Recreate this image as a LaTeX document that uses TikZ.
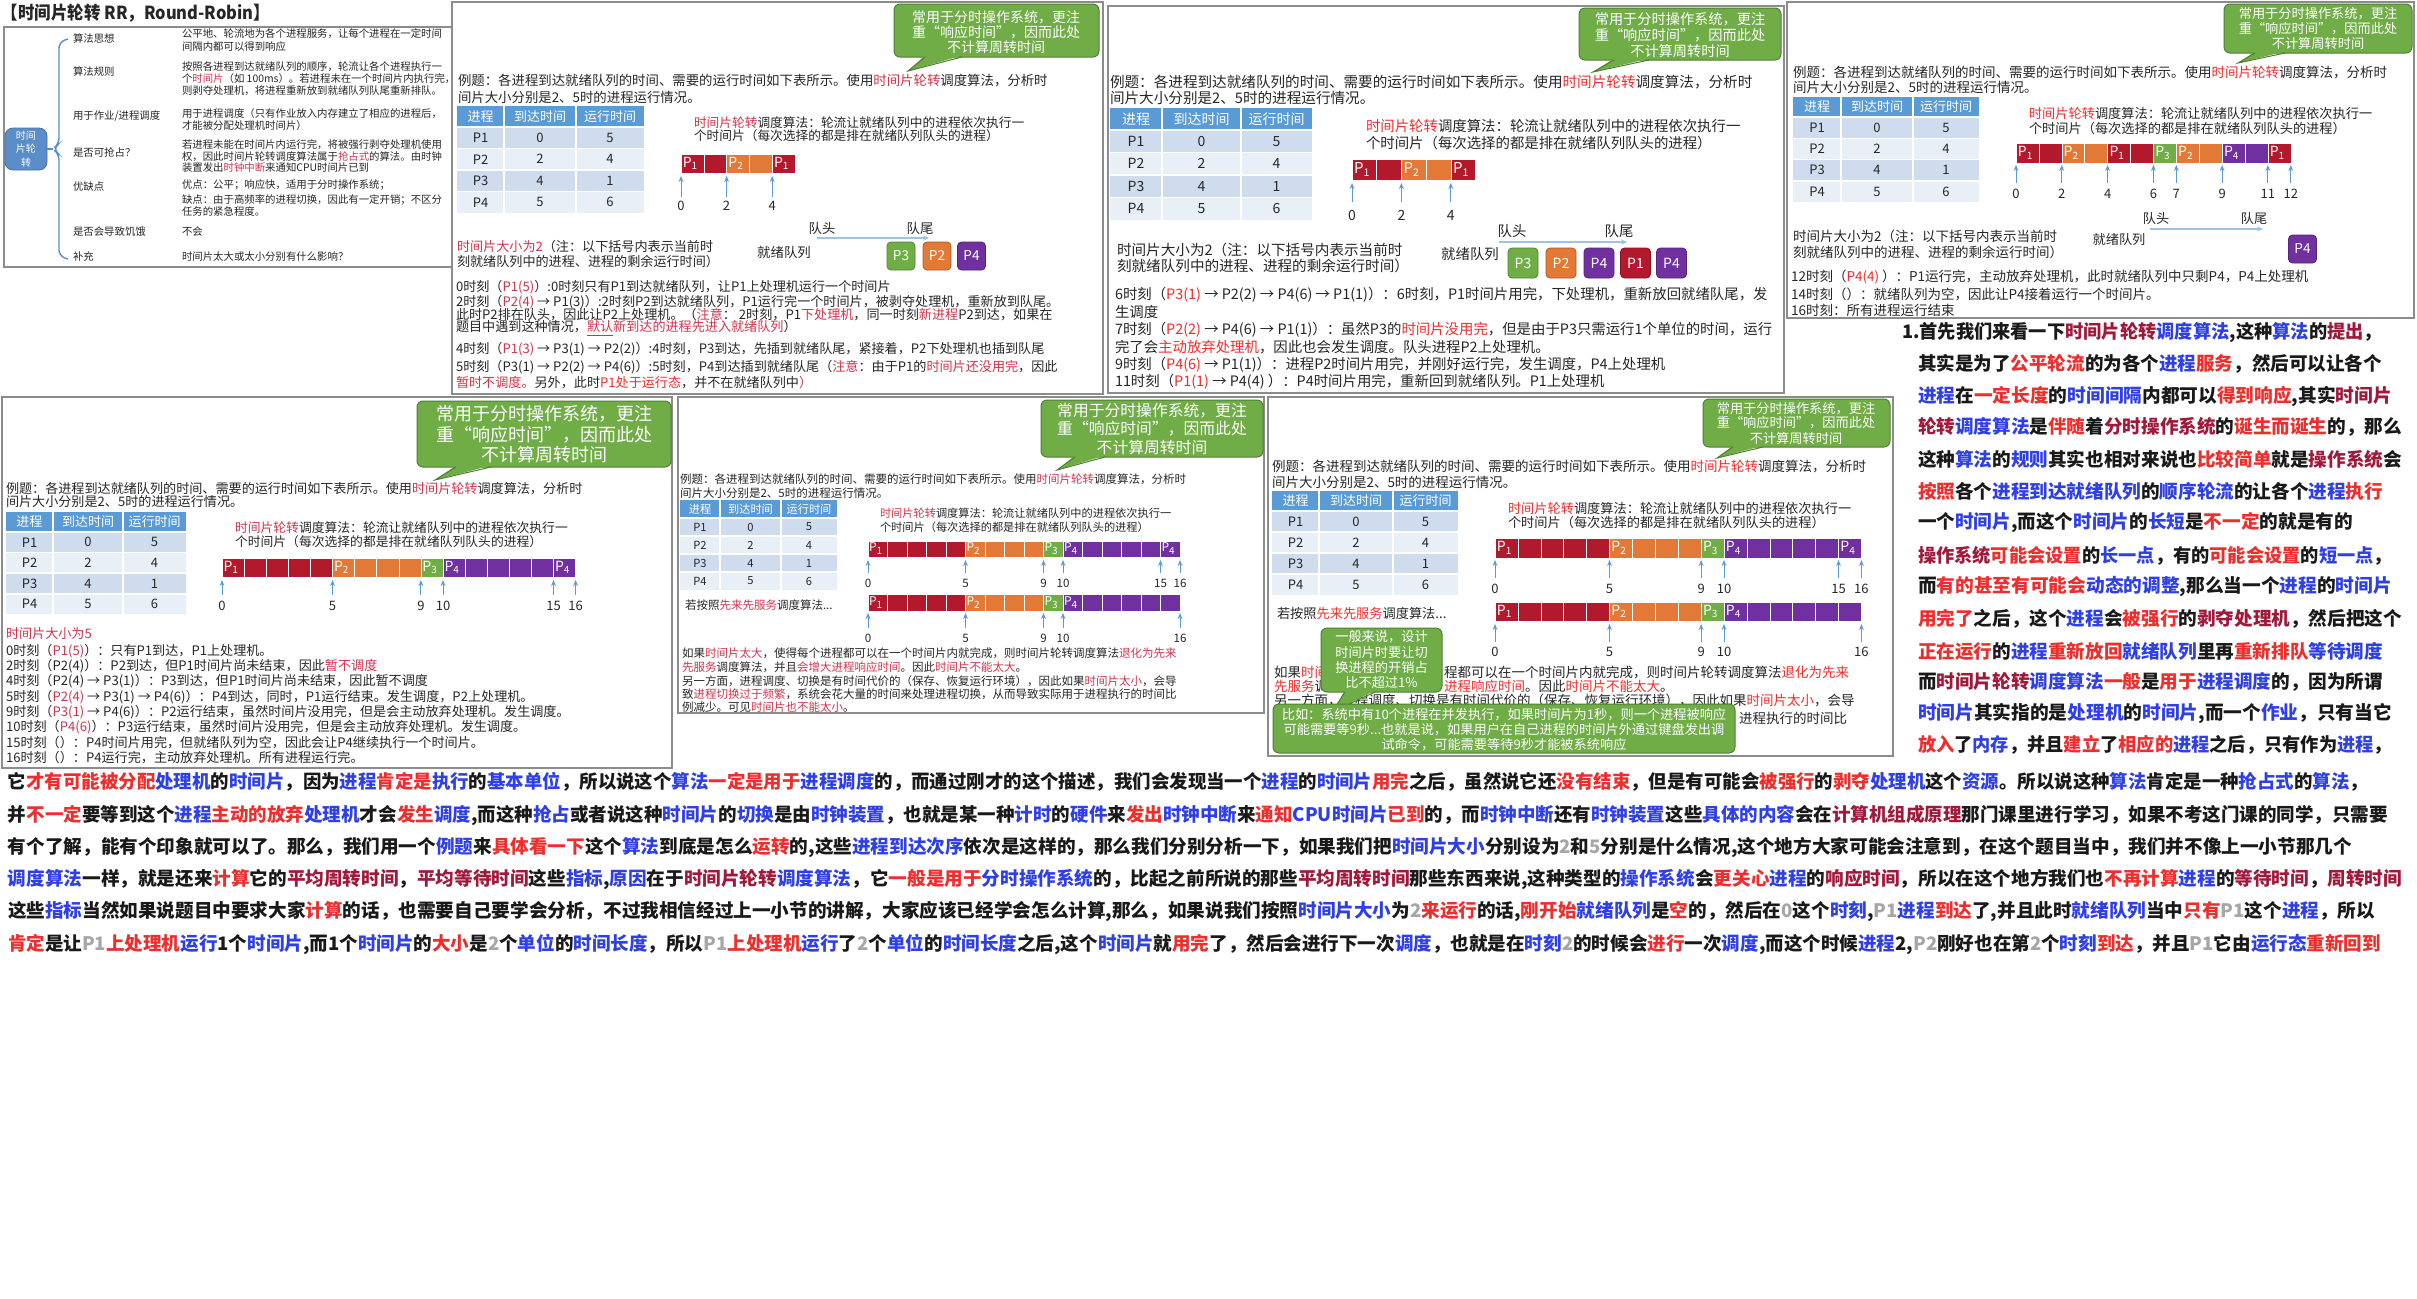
\documentclass[tikz,border=0pt]{standalone}
\usepackage{fontspec}
\setmainfont{Noto Sans CJK SC}
\usepackage{graphicx}
\usetikzlibrary{arrows.meta}

% palette
\definecolor{txt}{HTML}{262626}
\definecolor{pline}{HTML}{8C8C8C}
\definecolor{cA}{HTML}{B3192C}
\definecolor{cB}{HTML}{E27936}
\definecolor{cC}{HTML}{70AD47}
\definecolor{cD}{HTML}{7030A0}
\definecolor{gfill}{HTML}{70AD47}
\definecolor{gline}{HTML}{507E32}
\definecolor{thd}{HTML}{5B9BD5}
\definecolor{trA}{HTML}{CFDCEE}
\definecolor{trB}{HTML}{E9EFF7}
\definecolor{tick}{HTML}{5B9BD5}
\definecolor{qline}{HTML}{9DC3E6}
\definecolor{mmb}{HTML}{5B8DC8}
\definecolor{pred}{HTML}{D2334B}
\definecolor{bred}{HTML}{F52A2A}
\definecolor{cR}{HTML}{EE2D2D}
\definecolor{cBl}{HTML}{2F3FE6}
\definecolor{cDr}{HTML}{A0183A}
\definecolor{cGy}{HTML}{A6A6A6}

\newcommand\fz[1]{\fontsize{#1}{#1}\selectfont}
\newcommand\Rp[1]{\textcolor{pred}{#1}}
\newcommand\Rb[1]{\textcolor{bred}{#1}}
\newcommand\xR[1]{\textcolor{cR}{#1}}
\newcommand\xB[1]{\textcolor{cBl}{#1}}
\newcommand\xD[1]{\textcolor{cDr}{#1}}
\newcommand\xG[1]{\textcolor{cGy}{#1}}
% squeeze or stretch a line horizontally to a width given in pixels
\newcommand\fitw[2]{\resizebox{\dimexpr #1pt/2\relax}{\height}{#2}}

% repeated sentences
\newcommand\exone[1]{例题：各进程到达就绪队列的时间、需要的运行时间如下表所示。使用#1{时间片轮转}调度算法，分析时}
\newcommand\extwo{间片大小分别是2、5时的进程运行情况。}
\newcommand\alone[1]{#1{时间片轮转}调度算法：轮流让就绪队列中的进程依次执行一}
\newcommand\altwo{个时间片（每次选择的都是排在就绪队列队头的进程）}

\newcounter{nd}
\newcommand\putl[3][]{\stepcounter{nd}\node[tx,#1] (n\arabic{nd}) at (#2) {#3};}
\newcommand\putc[3][]{\stepcounter{nd}\node[txc,#1] (n\arabic{nd}) at (#2) {#3};}

\tikzset{
  tx/.style={anchor=west,inner sep=0pt,outer sep=0pt,text=txt},
  txc/.style={anchor=center,inner sep=0pt,outer sep=0pt,text=txt},
  panel/.style={draw=pline,line width=0.6pt},
  cfill/.style={fill=gfill,draw=gline,line width=0.5pt},
  ctx/.style={txc,text=white},
  glab/.style={txc,text=white},
  tk/.style={draw=tick,line width=0.5pt,-{Stealth[length=3pt,width=2.4pt]}},
  qarrow/.style={draw=qline,line width=0.7pt,-{Stealth[length=3pt,width=2.6pt]}},
  qb/.style={draw=#1!75!black,fill=#1,text=white,rounded corners=2pt,inner sep=0pt,
             line width=0.4pt,minimum width=14pt,minimum height=14pt},
  bp/.style={font=\bfseries\fz{9.3},text=black!90},
}

% speech bubble: box corners, tail base x-range on the bottom edge, tail tip
\newcommand\callout[7]{%
  \draw[cfill,rounded corners=3pt] (#1,#2) rectangle (#3,#4);
  \fill[gfill] (#5,{#4-1.5}) -- (#7) -- (#6,{#4-1.5}) -- cycle;
  \draw[gline,line width=0.5pt] (#5,#4) -- (#7) -- (#6,#4);
}

% process table: prefix, four column edges, top, header height, row height, font size
\newcommand\ptable[9]{%
  \fill[thd] (#2,#6) rectangle (#5,{#6+#7});
  \node[txc,text=white,font=\fz{#9}] (#1-h1) at ({(#2+#3)/2},{#6+#7/2}) {进程};
  \node[txc,text=white,font=\fz{#9}] (#1-h2) at ({(#3+#4)/2},{#6+#7/2}) {到达时间};
  \node[txc,text=white,font=\fz{#9}] (#1-h3) at ({(#4+#5)/2},{#6+#7/2}) {运行时间};
  \foreach \pp/\va/\vb [count=\ii] in {P1/0/5,P2/2/4,P3/4/1,P4/5/6}{%
    \pgfmathsetmacro\ya{#6+#7+(\ii-1)*#8}%
    \ifodd\ii\relax\def\rc{trA}\else\def\rc{trB}\fi
    \fill[\rc] (#2,\ya) rectangle (#5,{\ya+#8});
    \node[txc,font=\fz{#9}] (#1-p\ii) at ({(#2+#3)/2},{\ya+#8/2}) {\pp};
    \node[txc,font=\fz{#9}] (#1-a\ii) at ({(#3+#4)/2},{\ya+#8/2}) {\va};
    \node[txc,font=\fz{#9}] (#1-b\ii) at ({(#4+#5)/2},{\ya+#8/2}) {\vb};
  }
  \draw[white,line width=0.8pt] (#3,#6) -- (#3,{#6+#7+4*#8}) (#4,#6) -- (#4,{#6+#7+4*#8});
  \foreach \ii in {1,2,3}{\draw[white,line width=0.8pt] (#2,{#6+#7+\ii*#8}) -- (#5,{#6+#7+\ii*#8});}
  \draw[white,line width=1pt] (#2,{#6+#7}) -- (#5,{#6+#7});
}

% Gantt bar: name, x0, y0, unit width, height, colour list, labels k/n, label font size
\newcommand\gantt[8]{%
  \foreach \cl [count=\ii from 0] in {#6}{%
    \fill[\cl,draw=white,line width=0.3pt] ({#2+\ii*#4},#3) rectangle ({#2+\ii*#4+#4},{#3+#5});}
  \foreach \kk/\nn in {#7}{%
    \node[glab,font=\fz{#8}] (#1-\kk) at ({#2+\kk*#4+0.42*#4},{#3+#5/2}) {P\textsubscript{\nn}};}
}

% time marks under a bar: name, x0, unit, arrow foot, arrow head, label y, times, font size
\newcommand\ticks[8]{%
  \foreach \tv in {#7}{%
    \draw[tk] ({#2+\tv*#3},#4) -- ({#2+\tv*#3},#5);
    \node[txc,font=\fz{#8}] (#1-\tv) at ({#2+\tv*#3},#6) {\tv};}
}

\begin{document}
\begin{tikzpicture}[x=0.5pt,y=-0.5pt]
\useasboundingbox (0,0) rectangle (2417,1298);
\fill[white] (0,0) rectangle (2417,1298);

%================ summary card =================
\putl[font=\bfseries\fz{9}]{2,13}{\fitw{268}{【时间片轮转 RR，Round-Robin】}}
\draw[panel] (4,27) rectangle (452,267);
\node[draw=mmb!80!black,fill=mmb,rounded corners=4pt,minimum width=21pt,minimum height=21pt,
      text=white,align=center,inner sep=0pt,font=\fontsize{5}{6.7}\selectfont] (mm) at (26,149) {时间\\片轮\\转};
\coordinate (nub) at (53,149);
\draw[mmb,line width=0.7pt,rounded corners=3pt] (68,39) -- (59,42) -- (59,144) -- (nub) -- (59,154) -- (59,256) -- (68,259);
\draw[mmb,line width=0.7pt] (mm) -- (nub);
\tikzset{f1/.style={font=\fz{5.2}}}
\putl[f1]{73,39}{算法思想}
\putl[f1]{73,72}{算法规则}
\putl[f1]{73,116}{用于作业/进程调度}
\putl[f1]{73,152}{是否可抢占？}
\putl[f1]{73,187}{优缺点}
\putl[f1]{73,232}{是否会导致饥饿}
\putl[f1]{73,257}{补充}
\putl[f1]{182,34}{公平地、轮流地为各个进程服务，让每个进程在一定时间}
\putl[f1]{182,47}{间隔内都可以得到响应}
\putl[f1]{182,67}{按照各进程到达就绪队列的顺序，轮流让各个进程执行一}
\putl[f1]{182,79}{个\Rp{时间片}（如 100ms）。若进程未在一个时间片内执行完，}
\putl[f1]{182,91}{则剥夺处理机，将进程重新放到就绪队列队尾重新排队。}
\putl[f1]{182,114}{用于进程调度（只有作业放入内存建立了相应的进程后，}
\putl[f1]{182,126}{才能被分配处理机时间片）}
\putl[f1]{182,145}{若进程未能在时间片内运行完，将被强行剥夺处理机使用}
\putl[f1]{182,157}{权，因此时间片轮转调度算法属于\Rp{抢占式}的算法。由时钟}
\putl[f1]{182,168}{装置发出\Rp{时钟中断}来通知CPU时间片已到}
\putl[f1]{182,185}{优点：公平；响应快，适用于分时操作系统；}
\putl[f1]{182,200}{缺点：由于高频率的进程切换，因此有一定开销；不区分}
\putl[f1]{182,212}{任务的紧急程度。}
\putl[f1]{182,232}{不会}
\putl[f1]{182,257}{时间片太大或太小分别有什么影响？}

%================ slice 2: times 0-5 =================
\draw[panel] (452,2) rectangle (1103,394);
\callout{894}{4}{1099}{57}{925}{962}{908,71}
\tikzset{c2/.style={ctx,font=\fz{7}}, f2/.style={font=\fz{6.7}}, f2a/.style={font=\fz{6.35}}, f2e/.style={font=\fz{6.55}}}
\putc[c2]{996,17}{常用于分时操作系统，更注}
\putc[c2]{996,32}{重“响应时间”，因而此处}
\putc[c2]{996,47}{不计算周转时间}
\putl[f2]{458,81}{\exone\Rp}
\putl[f2]{458,97}{\extwo}
\ptable{t2}{457}{504}{576}{644}{106}{21}{21.5}{6.5}
\putl[f2a]{694,123}{\alone\Rp}
\putl[f2a]{694,136}{\altwo}
\gantt{g2}{681}{154}{22.8}{19}{cA,cA,cB,cB,cA}{0/1,2/2,4/1}{7}
\ticks{k2}{681}{22.8}{197}{176}{206}{0,2,4}{6.5}
\putc[f2]{822,228}{队头}
\putc[f2]{920,228}{队尾}
\coordinate (q2s) at (817,238); \coordinate (q2e) at (929,238);
\draw[qarrow] (q2s) -- (q2e);
\putc[f2]{784,252}{就绪队列}
\node[qb=cC,font=\fz{6.8}] (q2a) at (901,256) {P3};
\node[qb=cB,font=\fz{6.8}] (q2b) at (937,256) {P2};
\node[qb=cD,font=\fz{6.8}] (q2c) at (971.5,256) {P4};
\putl[f2e]{457,247}{\Rp{时间片大小为2}（注：以下括号内表示当前时}
\putl[f2e]{457,262}{刻就绪队列中的进程、进程的剩余运行时间）}
\putl[f2e]{456,287}{0时刻（\Rp{P1(5)}）:0时刻只有P1到达就绪队列，让P1上处理机运行一个时间片}
\putl[f2e]{456,302}{2时刻（\Rp{P2(4)} → P1(3)）:2时刻P2到达就绪队列，P1运行完一个时间片，被剥夺处理机，重新放到队尾。}
\putl[f2e]{456,315}{此时P2排在队头，因此让P2上处理机。（\Rp{注意}： 2时刻，P1\Rp{下处理机}，同一时刻\Rp{新进程}P2到达，如果在}
\putl[f2e]{456,328}{题目中遇到这种情况，\Rp{\underline{默认}新到达的进程先进入就绪队列}）}
\putl[f2e]{456,349}{4时刻（\Rp{P1(3)} → P3(1) → P2(2)）:4时刻，P3到达，先插到就绪队尾，紧接着，P2下处理机也插到队尾}
\putl[f2e]{456,367}{5时刻（P3(1) → P2(2) → P4(6)）:5时刻，P4到达插到就绪队尾（\Rp{注意}：由于P1的\Rp{时间片还没用完}，因此}
\putl[f2e]{456,383}{\Rp{暂时不调度。}另外，此时\Rb{P1处于运行态}，并不在就绪队列中\Rp{）}}

%================ slice 2: times 6-11 =================
\draw[panel] (1108,6) rectangle (1784,393);
\callout{1579}{8}{1781}{60}{1614}{1649}{1593,72}
\tikzset{c3/.style={ctx,font=\fz{7.1}}, f3/.style={font=\fz{7.3}}, f3a/.style={font=\fz{7.2}}}
\putc[c3]{1680,19}{常用于分时操作系统，更注}
\putc[c3]{1680,35}{重“响应时间”，因而此处}
\putc[c3]{1680,51}{不计算周转时间}
\putl[f3]{1110,82}{\exone\Rb}
\putl[f3]{1110,98}{\extwo}
\ptable{t3}{1110}{1162}{1241}{1312}{108}{22}{22.5}{7}
\putl[f3a]{1366,126}{\alone\Rb}
\putl[f3a]{1366,143}{\altwo}
\gantt{g3}{1352}{159}{24.7}{21}{cA,cA,cB,cB,cA}{0/1,2/2,4/1}{7.5}
\ticks{k3}{1352}{24.7}{202}{183}{215}{0,2,4}{7}
\putc[f3a]{1512,231}{队头}
\putc[f3a]{1619,231}{队尾}
\coordinate (q3s) at (1499,242); \coordinate (q3e) at (1627,242);
\draw[qarrow] (q3s) -- (q3e);
\putc[f3a]{1470,254}{就绪队列}
\node[qb=cC,font=\fz{7},minimum width=15pt,minimum height=15pt] (q3a) at (1523,263) {P3};
\node[qb=cB,font=\fz{7},minimum width=15pt,minimum height=15pt] (q3b) at (1561,263) {P2};
\node[qb=cD,font=\fz{7},minimum width=15pt,minimum height=15pt] (q3c) at (1599,263) {P4};
\node[qb=cA,font=\fz{7},minimum width=15pt,minimum height=15pt] (q3d) at (1635.5,263) {P1};
\node[qb=cD,font=\fz{7},minimum width=15pt,minimum height=15pt] (q3e) at (1671.5,263) {P4};
\putl[f3]{1117,250}{时间片大小为2（注：以下括号内表示当前时}
\putl[f3]{1117,266}{刻就绪队列中的进程、进程的剩余运行时间）}
\putl[f3a]{1115,295}{6时刻（\Rb{P3(1)} → P2(2) → P4(6) → P1(1)）：6时刻，P1时间片用完，下处理机，重新放回就绪队尾，发}
\putl[f3a]{1115,312}{生调度}
\putl[f3a]{1115,330}{7时刻（\Rb{P2(2)} → P4(6) → P1(1)）：虽然P3的\Rb{时间片没用完}，但是由于P3只需运行1个单位的时间，运行}
\putl[f3a]{1115,347}{完了会\Rb{主动放弃处理机}，因此也会发生调度。队头进程P2上处理机。}
\putl[f3a]{1115,365}{9时刻（\Rb{P4(6)} → P1(1)）：进程P2时间片用完，并刚好运行完，发生调度，P4上处理机}
\putl[f3a]{1115,382}{11时刻（\Rb{P1(1)} → P4(4) ）：P4时间片用完，重新回到就绪队列。P1上处理机}

%================ slice 2: times 12-16 =================
\draw[panel] (1787,2) rectangle (2414,318);
\callout{2224}{4}{2412}{53}{2255}{2285}{2238,63}
\tikzset{c4/.style={ctx,font=\fz{6.6}}, f4/.style={font=\fz{6.75}}, f4a/.style={font=\fz{6.6}}}
\putc[c4]{2318,14}{常用于分时操作系统，更注}
\putc[c4]{2318,29}{重“响应时间”，因而此处}
\putc[c4]{2318,43}{不计算周转时间}
\putl[f4]{1793,72}{\exone\Rb}
\putl[f4]{1793,87}{\extwo}
\ptable{t4}{1793}{1841}{1913}{1979}{97}{20}{21.3}{6.5}
\putl[f4a]{2029,113}{\alone\Rb}
\putl[f4a]{2029,128}{\altwo}
\gantt{g4}{2016}{143}{22.9}{20}{cA,cA,cB,cB,cA,cA,cC,cB,cB,cD,cD,cA}{0/1,2/2,4/1,6/3,7/2,9/4,11/1}{7}
\ticks{k4}{2016}{22.9}{183}{165}{194}{0,2,4,6,7,9,11,12}{6.5}
\putc[f4a]{2156,218}{队头}
\putc[f4a]{2254,218}{队尾}
\coordinate (q4s) at (2150,229); \coordinate (q4e) at (2263,229);
\draw[qarrow] (q4s) -- (q4e);
\putc[f4a]{2119,239}{就绪队列}
\node[qb=cD,font=\fz{6.8}] (q4a) at (2302.5,249) {P4};
\putl[f4]{1793,236}{时间片大小为2（注：以下括号内表示当前时}
\putl[f4]{1793,252}{刻就绪队列中的进程、进程的剩余运行时间）}
\putl[f4]{1791,277}{12时刻（\Rb{P4(4)} ）：P1运行完，主动放弃处理机，此时就绪队列中只剩P4，P4上处理机}
\putl[f4]{1791,294}{14时刻（）：就绪队列为空，因此让P4接着运行一个时间片。}
\putl[f4]{1791,310}{16时刻：所有进程运行结束}

%================ slice 5 =================
\draw[panel] (2,397) rectangle (672,768);
\callout{417}{401}{671}{467}{456}{491}{435,480}
\tikzset{c5/.style={ctx,font=\fz{9}}, f5/.style={font=\fz{6.55}}, f5a/.style={font=\fz{6.4}}}
\putc[c5]{544,414}{常用于分时操作系统，更注}
\putc[c5]{544,435}{重“响应时间”，因而此处}
\putc[c5]{544,455}{不计算周转时间}
\putl[f5]{6,489}{\exone\Rp}
\putl[f5]{6,502}{\extwo}
\ptable{t5}{6}{53}{123}{186}{512}{20}{20.6}{6.5}
\putl[f5a]{235,528}{\alone\Rp}
\putl[f5a]{235,542}{\altwo}
\gantt{g5}{222}{558}{22.1}{19}{cA,cA,cA,cA,cA,cB,cB,cB,cB,cC,cD,cD,cD,cD,cD,cD}{0/1,5/2,9/3,10/4,15/4}{7}
\ticks{k5}{222}{22.1}{595}{580}{606}{0,5,9,10,15,16}{6.5}
\putl[f5]{6,634}{\Rp{时间片大小为5}}
\putl[f5]{6,651}{0时刻（\Rp{P1(5)}）：只有P1到达，P1上处理机。}
\putl[f5]{6,666}{2时刻（P2(4)）：P2到达，但P1时间片尚未结束，因此\Rp{暂不调度}}
\putl[f5]{6,681}{4时刻（P2(4) → P3(1)）：P3到达，但P1时间片尚未结束，因此暂不调度}
\putl[f5]{6,697}{5时刻（\Rp{P2(4)} → P3(1) → P4(6)）：P4到达，同时，P1运行结束。发生调度，P2上处理机。}
\putl[f5]{6,712}{9时刻（\Rp{P3(1)} → P4(6)）：P2运行结束，虽然时间片没用完，但是会主动放弃处理机。发生调度。}
\putl[f5]{6,727}{10时刻（\Rp{P4(6)}）：P3运行结束，虽然时间片没用完，但是会主动放弃处理机。发生调度。}
\putl[f5]{6,743}{15时刻（）：P4时间片用完，但就绪队列为空，因此会让P4继续执行一个时间片。}
\putl[f5]{6,758}{16时刻（）：P4运行完，主动放弃处理机。所有进程运行完。}

%================ slice 5 against first come first served =================
\draw[panel] (678,397) rectangle (1264,713);
\callout{1041}{400}{1263}{457}{1075}{1105}{1057,470}
\tikzset{c6/.style={ctx,font=\fz{7.9}}, f6/.style={font=\fz{5.75}}, f6a/.style={font=\fz{5.6}}}
\putc[c6]{1152,411}{常用于分时操作系统，更注}
\putc[c6]{1152,429}{重“响应时间”，因而此处}
\putc[c6]{1152,447}{不计算周转时间}
\putl[f6]{680,479}{\exone\Rp}
\putl[f6]{680,493}{\extwo}
\ptable{t6}{680}{720}{781}{837}{500}{18}{18}{5.6}
\putl[f6]{685,605}{若按照\Rp{先来先服务}调度算法...}
\putl[f6a]{880,513}{\alone\Rp}
\putl[f6a]{880,527}{\altwo}
\gantt{g6}{868}{541}{19.5}{16}{cA,cA,cA,cA,cA,cB,cB,cB,cB,cC,cD,cD,cD,cD,cD,cD}{0/1,5/2,9/3,10/4,15/4}{6}
\ticks{k6}{868}{19.5}{573}{560}{583}{0,5,9,10,15,16}{5.8}
\gantt{g6b}{868}{594}{19.5}{17}{cA,cA,cA,cA,cA,cB,cB,cB,cB,cC,cD,cD,cD,cD,cD,cD}{0/1,5/2,9/3,10/4}{6}
\ticks{k6b}{868}{19.5}{628}{613}{638}{0,5,9,10,16}{5.8}
\putl[f6]{682,653}{如果\Rp{时间片太大}，使得每个进程都可以在一个时间片内就完成，则时间片轮转调度算法\Rp{退化为先来}}
\putl[f6]{682,667}{\Rp{先服务}调度算法，并且\Rp{会增大进程响应时间}。因此\Rp{时间片不能太大}。}
\putl[f6]{682,681}{另一方面，进程调度、切换是有时间代价的（保存、恢复运行环境），因此如果\Rp{时间片太小}，会导}
\putl[f6]{682,694}{致\Rp{进程切换过于频繁}，系统会花大量的时间来处理进程切换，从而导致实际用于进程执行的时间比}
\putl[f6]{682,707}{例减少。可见\Rp{时间片也不能太小}。}

%================ slice 5 with remarks =================
\draw[panel] (1268,397) rectangle (1893,756);
\callout{1703}{399}{1890}{447}{1733}{1763}{1717,458}
\tikzset{c7/.style={ctx,font=\fz{6.6}}, f7/.style={font=\fz{6.75}}, f7a/.style={font=\fz{6.6}}}
\putc[c7]{1796,409}{常用于分时操作系统，更注}
\putc[c7]{1796,423}{重“响应时间”，因而此处}
\putc[c7]{1796,438}{不计算周转时间}
\putl[f7]{1272,466}{\exone\Rb}
\putl[f7]{1272,482}{\extwo}
\ptable{t7}{1272}{1319}{1393}{1458}{491}{20}{21}{6.5}
\putl[f7a]{1277,613}{若按照\Rb{先来先服务}调度算法...}
\putl[f7a]{1508,508}{\alone\Rb}
\putl[f7a]{1508,522}{\altwo}
\gantt{g7}{1495}{538}{22.9}{20}{cA,cA,cA,cA,cA,cB,cB,cB,cB,cC,cD,cD,cD,cD,cD,cD}{0/1,5/2,9/3,10/4,15/4}{7}
\ticks{k7}{1495}{22.9}{578}{560}{589}{0,5,9,10,15,16}{6.5}
\gantt{g7b}{1495}{602}{22.9}{19}{cA,cA,cA,cA,cA,cB,cB,cB,cB,cC,cD,cD,cD,cD,cD,cD}{0/1,5/2,9/3,10/4}{7}
\ticks{k7b}{1495}{22.9}{642}{624}{652}{0,5,9,10,16}{6.5}
% the text below is partly covered by the two remark bubbles
\putl[f7]{1274,672}{如果\Rb{时间}}
\putl[f7]{1444,672}{程都可以在一个时间片内就完成，则时间片轮转调度算法\Rb{退化为先来}}
\putl[f7]{1274,686}{\Rb{先服务}调}
\putl[f7]{1444,686}{\Rb{进程响应时间}。因此\Rb{时间片不能太大}。}
\putl[f7]{1274,700}{另一方面，进程调度、切换是有时间代价的（保存、恢复运行环境），因此如果\Rb{时间片太小}，会导}
\putl[f7]{1739,718}{进程执行的时间比}
% remark bubbles
\callout{1321}{628}{1442}{692}{1345}{1375}{1332,712}
\putc[c7]{1381.5,637}{一般来说，设计}
\putc[c7]{1381.5,652}{时间片时要让切}
\putc[c7]{1381.5,667}{换进程的开销占}
\putc[c7]{1381.5,682}{比不超过1\%}
\draw[cfill,rounded corners=3pt] (1273,704) rectangle (1735,753);
\putc[c7]{1504,714.5}{比如：系统中有10个进程在并发执行，如果时间片为1秒，则一个进程被响应}
\putc[c7]{1504,730}{可能需要等9秒...也就是说，如果用户在自己进程的时间片外通过键盘发出调}
\putc[c7]{1504,745}{试命令，可能需要等待9秒才能被系统响应}

%================ narration, right column =================
\putl[bp]{1902,333}{\fitw{480}{1.首先我们来看一下\xD{时间片轮转}\xB{调度算法},这种\xB{算法}的\xD{提出}，}}
\putl[bp]{1918,364}{\fitw{464}{其实是为了\xR{公平轮流}的为各个\xB{进程}\xR{服务}，然后可以让各个}}
\putl[bp]{1918,396}{\fitw{474}{\xB{进程}在\xR{一定长度}的\xB{时间间隔}内都可以\xR{得到响应},其实\xD{时间片}}}
\putl[bp]{1918,427}{\fitw{484}{\xD{轮转}\xB{调度算法}是\xR{伴随}着\xD{分时操作系统}的\xR{诞生而诞生}的，那么}}
\putl[bp]{1918,459}{\fitw{484}{这种\xB{算法}的\xB{规则}其实也相对来说也\xR{比较简单}就是\xD{操作系统}会}}
\putl[bp]{1918,491}{\fitw{465}{\xR{按照}各个\xB{进程到达就绪队列}的\xB{顺序轮流}的让各个\xB{进程}\xR{执行}}}
\putl[bp]{1918,523}{\fitw{435}{一个\xB{时间片},而这个\xB{时间片}的\xB{长短}是\xR{不一定}的就是有的}}
\putl[bp]{1918,556}{\fitw{474}{\xD{操作系统}\xR{可能会设置}的\xB{长一点}，有的\xR{可能会设置}的\xB{短一点}，}}
\putl[bp]{1918,587}{\fitw{474}{而\xR{有的甚至有可能会}\xB{动态的调整},那么当一个\xB{进程}的\xB{时间片}}}
\putl[bp]{1918,619}{\fitw{484}{\xR{用完了}之后，这个\xB{进程}会\xR{被强行}的\xD{剥夺处理机}，然后把这个}}
\putl[bp]{1918,651}{\fitw{465}{\xR{正在运行}的\xB{进程}\xR{重新放回}\xB{就绪队列}里再\xR{重新排队}\xB{等待调度}}}
\putl[bp]{1918,682}{\fitw{465}{而\xD{时间片轮转}\xB{调度算法}\xR{一般}是\xR{用于}\xB{进程调度}的，因为所谓}}
\putl[bp]{1918,713}{\fitw{474}{\xB{时间片}其实指的是\xB{处理机}的\xB{时间片},而一个\xB{作业}，只有当它}}
\putl[bp]{1918,745}{\fitw{474}{\xR{放入}了\xB{内存}，并且\xR{建立}了\xR{相应的}\xB{进程}之后，只有作为\xB{进程}，}}

%================ narration, full width =================
\putl[bp]{8,782}{\fitw{2360}{它\xR{才有可能被分配}\xB{处理机}的\xB{时间片}，因为\xB{进程}\xR{肯定是}\xB{执行}的\xB{基本单位}，所以说这个\xB{算法}\xR{一定是用于}\xB{进程调度}的，而通过刚才的这个描述，我们会发现当一个\xB{进程}的\xB{时间片}\xR{用完}之后，虽然说它还\xR{没有结束}，但是有可能会\xR{被强行}的\xR{剥夺}\xB{处理机}这个\xB{资源}。所以说这种\xB{算法}肯定是一种\xB{抢占式}的\xB{算法}，}}
\putl[bp]{8,815}{\fitw{2380}{并\xR{不一定}要等到这个\xB{进程}\xR{主动的放弃}\xB{处理机}才会\xR{发生}\xB{调度},而这种\xB{抢占}或者说这种\xB{时间片}的\xB{切换}是由\xB{时钟装置}，也就是某一种\xB{计时}的\xB{硬件}来\xR{发出}\xB{时钟中断}来\xR{通知}\xB{CPU时间片}\xR{已到}的，而\xB{时钟中断}还有\xB{时钟装置}这些\xB{具体的内容}会在\xD{计算机组成原理}那门课里进行学习，如果不考这门课的同学，只需要}}
\putl[bp]{8,847}{\fitw{2344}{有个了解，能有个印象就可以了。那么，我们用一个\xB{例题}来\xR{具体看一下}这个\xB{算法}到底是怎么\xR{运转}的,这些\xB{进程到达次序}依次是这样的，那么我们分别分析一下，如果我们把\xB{时间片大小}分别设为\xG{2}和\xG{5}分别是什么情况,这个地方大家可能会注意到，在这个题目当中，我们并不像上一小节那几个}}
\putl[bp]{8,879}{\fitw{2394}{\xB{调度算法}一样，就是还来\xR{计算}它的\xD{平均周转时间}，\xD{平均等待时间}这些\xB{指标},\xB{原因}在于\xD{时间片轮转}\xB{调度算法}，它\xR{一般是用于}\xB{分时操作系统}的，比起之前所说的那些\xD{平均周转时间}那些东西来说,这种类型的\xB{操作系统}会\xR{更关心}\xB{进程}的\xD{响应时间}，所以在这个地方我们也\xR{不再计算}\xB{进程}的\xD{等待时间}，\xD{周转时间}}}
\putl[bp]{8,912}{\fitw{2367}{这些\xB{指标}当然如果说题目中要求大家\xR{计算}的话，也需要自己要学会分析，不过我相信经过上一小节的讲解，大家应该已经学会怎么计算,那么，如果说我们按照\xB{时间片大小}为\xG{2}\xR{来运行}的话,\xR{刚开始}\xB{就绪队列}是\xR{空}的，然后在\xG{0}这个\xB{时刻},\xG{P1}\xB{进程}\xR{到达}了,并且此时\xB{就绪队列}当中\xR{只有}\xG{P1}这个\xB{进程}，所以}}
\putl[bp]{8,944}{\fitw{2373}{\xR{肯定}是让\xG{P1}\xR{上处理机}\xB{运行}1个\xB{时间片},而1个\xB{时间片}的\xR{大小}是\xG{2}个\xB{单位}的\xB{时间长度}，所以\xG{P1}\xR{上处理机}\xB{运行}了\xG{2}个\xB{单位}的\xB{时间长度}之后,这个\xB{时间片}就\xR{用完}了，然后会进行下一次\xB{调度}，也就是在\xB{时刻}\xG{2}的时候会\xR{进行}一次\xB{调度},而这个时候\xB{进程}2,\xG{P2}刚好也在第\xG{2}个\xB{时刻}\xR{到达}，并且\xG{P1}它由\xB{运行态}\xR{重新回到}}}

\end{tikzpicture}
\end{document}
